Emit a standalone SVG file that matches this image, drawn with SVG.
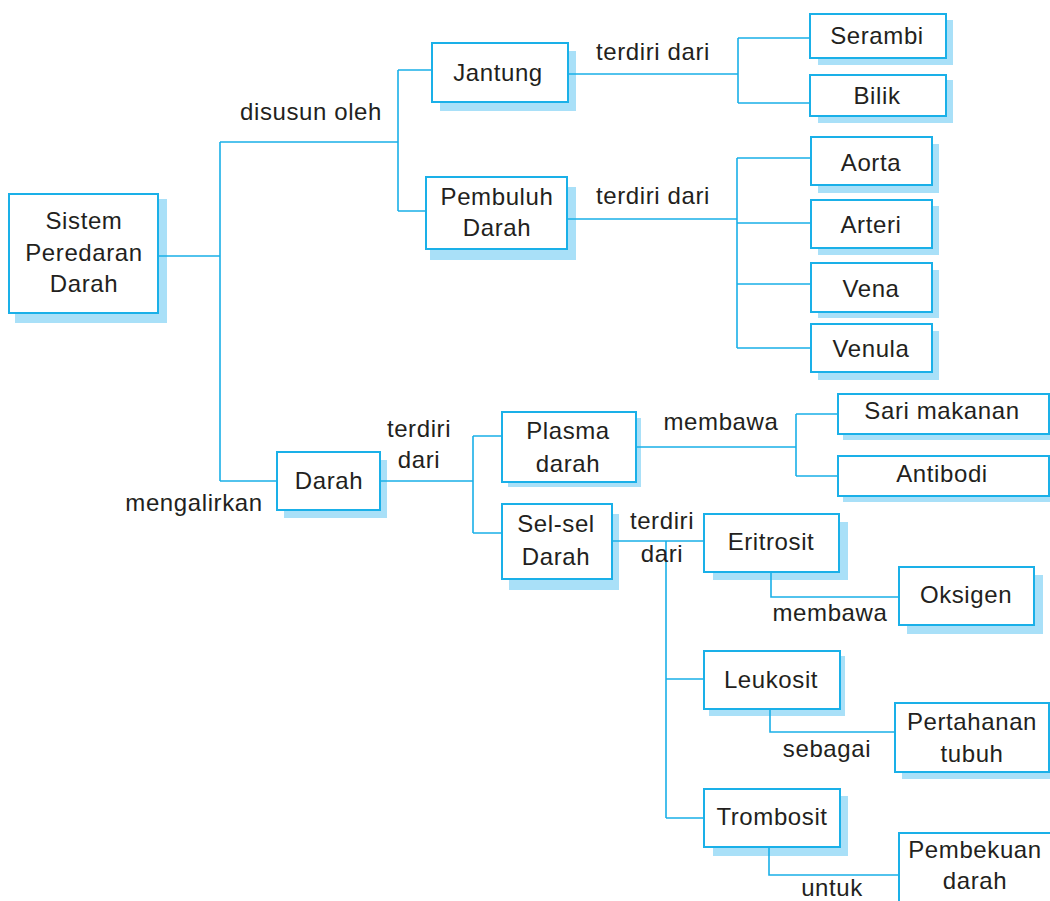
<svg xmlns="http://www.w3.org/2000/svg" width="1050" height="901" viewBox="0 0 1050 901">
<style>
.bx{fill:#fff;stroke:#1ab0e8;stroke-width:2}
.sh{fill:#a9e0f8}
.ln{fill:none;stroke:#1ab0e8;stroke-width:1.6}
text{font-family:"Liberation Sans",Arial,sans-serif;font-size:24px;fill:#231f20;text-anchor:middle;letter-spacing:0.6px}
</style>
<rect width="1050" height="901" fill="#fff"/>
<g id="sistem"><rect class="sh" x="15" y="199" width="152" height="124"/><rect class="bx" x="9" y="194" width="149" height="119"/><text x="84" y="229">Sistem</text><text x="84" y="261">Peredaran</text><text x="84" y="292">Darah</text></g>
<g id="jantung"><rect class="sh" x="440" y="51" width="136" height="60"/><rect class="bx" x="432" y="43" width="136" height="59"/><text x="498" y="81">Jantung</text></g>
<g id="pembuluh"><rect class="sh" x="430" y="187" width="146" height="73"/><rect class="bx" x="426" y="177" width="141" height="72"/><text x="497" y="205">Pembuluh</text><text x="497" y="236">Darah</text></g>
<g id="serambi"><rect class="sh" x="818" y="20" width="135" height="45"/><rect class="bx" x="810" y="14" width="136" height="44"/><text x="877" y="44">Serambi</text></g>
<g id="bilik"><rect class="sh" x="818" y="80" width="135" height="43"/><rect class="bx" x="810" y="75" width="136" height="41"/><text x="877" y="104">Bilik</text></g>
<g id="aorta"><rect class="sh" x="818" y="144" width="121" height="49"/><rect class="bx" x="811" y="137" width="121" height="48"/><text x="871" y="171">Aorta</text></g>
<g id="arteri"><rect class="sh" x="818" y="206" width="121" height="49"/><rect class="bx" x="811" y="200" width="121" height="48"/><text x="871" y="233">Arteri</text></g>
<g id="vena"><rect class="sh" x="818" y="270" width="121" height="48"/><rect class="bx" x="811" y="263" width="121" height="49"/><text x="871" y="297">Vena</text></g>
<g id="venula"><rect class="sh" x="818" y="331" width="121" height="49"/><rect class="bx" x="811" y="324" width="121" height="48"/><text x="871" y="357">Venula</text></g>
<g id="darah"><rect class="sh" x="284" y="460" width="103" height="58"/><rect class="bx" x="277" y="452" width="103" height="58"/><text x="329" y="489">Darah</text></g>
<g id="plasma"><rect class="sh" x="508" y="418" width="133" height="69"/><rect class="bx" x="502" y="412" width="134" height="70"/><text x="568" y="439">Plasma</text><text x="568" y="472">darah</text></g>
<g id="selsel"><rect class="sh" x="509" y="514" width="110" height="76"/><rect class="bx" x="502" y="504" width="110" height="75"/><text x="556" y="532">Sel-sel</text><text x="556" y="565">Darah</text></g>
<g id="sari"><rect class="sh" x="843" y="400" width="207" height="40"/><rect class="bx" x="838" y="394" width="211" height="40"/><text x="942" y="419">Sari makanan</text></g>
<g id="antibodi"><rect class="sh" x="843" y="462" width="207" height="40"/><rect class="bx" x="838" y="456" width="211" height="40"/><text x="942" y="482">Antibodi</text></g>
<g id="eritrosit"><rect class="sh" x="713" y="522" width="135" height="58"/><rect class="bx" x="704" y="514" width="135" height="58"/><text x="771" y="550">Eritrosit</text></g>
<g id="oksigen"><rect class="sh" x="907" y="575" width="136" height="59"/><rect class="bx" x="899" y="567" width="135" height="58"/><text x="966" y="603">Oksigen</text></g>
<g id="leukosit"><rect class="sh" x="709" y="656" width="136" height="60"/><rect class="bx" x="704" y="651" width="136" height="58"/><text x="771" y="688">Leukosit</text></g>
<g id="pertahanan"><rect class="sh" x="902" y="710" width="148" height="69"/><rect class="bx" x="895" y="703" width="154" height="69"/><text x="972" y="730">Pertahanan</text><text x="972" y="762">tubuh</text></g>
<g id="trombosit"><rect class="sh" x="713" y="796" width="135" height="60"/><rect class="bx" x="704" y="789" width="136" height="58"/><text x="772" y="825">Trombosit</text></g>
<g id="pembekuan"><rect class="bx" x="899" y="833" width="170" height="90"/><text x="975" y="858">Pembekuan</text><text x="975" y="889">darah</text></g>
<g id="connectors">
<path class="ln" d="M158,256H220M220,142V481M220,142H398M398,70V211M398,70H432M398,211H426M220,481H277"/>
<path class="ln" d="M568,74H738M738,38V103M738,38H810M738,103H810"/>
<path class="ln" d="M567,219H737M737,158V348M737,158H811M737,223H811M737,284H811M737,348H811"/>
<path class="ln" d="M380,481H473M473,436V533M473,436H502M473,533H502"/>
<path class="ln" d="M636,447H796M796,414V476M796,414H838M796,476H838"/>
<path class="ln" d="M612,541H704M666,541V818M666,679H704M666,818H704"/>
<path class="ln" d="M771,572V597H899M770,709V732H895M769,847V875H899"/>
</g>
<g id="labels">
<text x="311" y="120">disusun oleh</text>
<text x="194" y="511">mengalirkan</text>
<text x="653" y="60">terdiri dari</text>
<text x="653" y="204">terdiri dari</text>
<text x="419" y="437">terdiri</text>
<text x="419" y="468">dari</text>
<text x="721" y="430">membawa</text>
<text x="662" y="529">terdiri</text>
<text x="662" y="562">dari</text>
<text x="830" y="621">membawa</text>
<text x="827" y="757">sebagai</text>
<text x="832" y="896">untuk</text>
</g>
</svg>
